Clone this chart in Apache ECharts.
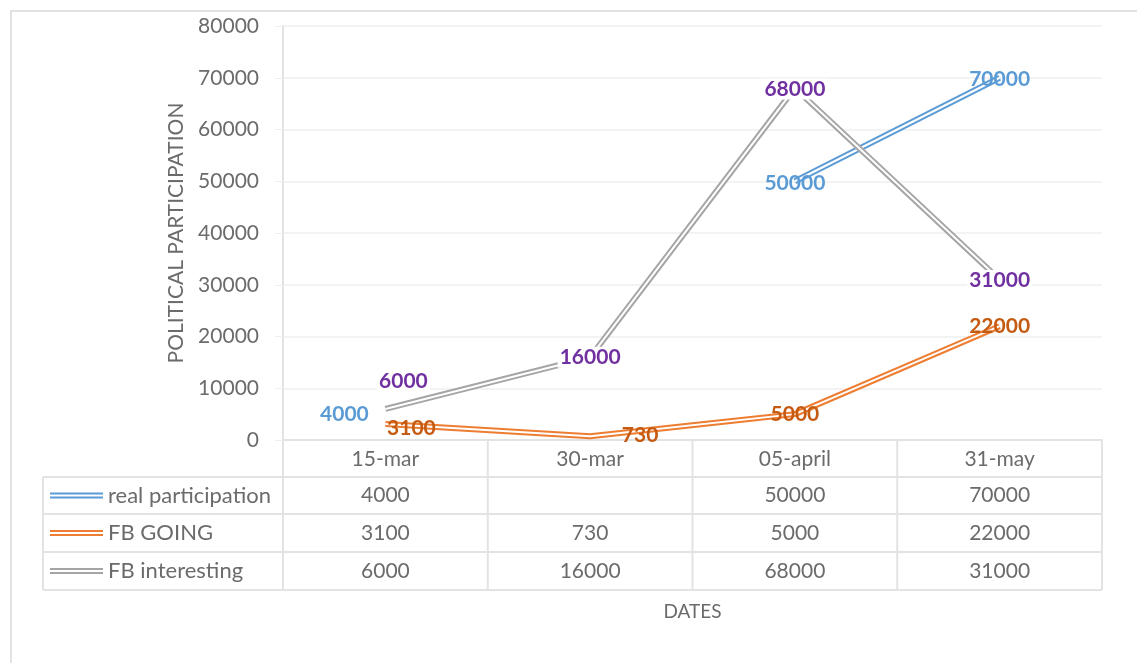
<!DOCTYPE html>
<html><head><meta charset="utf-8">
<script src="https://cdn.jsdelivr.net/npm/echarts@6/dist/echarts.min.js"></script>
<style>html,body{margin:0;padding:0;background:#fff}#c{width:1137px;height:663px}</style>
</head><body><div id="c"></div>
<script>
const categories = ['15-mar', '30-mar', '05-april', '31-may'];
const seriesNames = ['real participation', 'FB GOING', 'FB interesting'];
const realParticipation = [4000, null, 50000, 70000];
const fbGoing = [3100, 730, 5000, 22000];
const fbInteresting = [6000, 16000, 68000, 31000];
const yTicks = [0, 10000, 20000, 30000, 40000, 50000, 60000, 70000, 80000];
const yTitle = 'POLITICAL PARTICIPATION';
const xTitle = 'DATES';

const FONT = 'Lato';
const TXT = '#6b6b6b';
const lineColors = ['#5B9BD5', '#ED7D31', '#A5A5A5'];
const labelColors = ['#5B9BD5', '#C55A11', '#7030A0'];
const labelOffsets = [
  [[-41, -5], [0, 0], [0, 2], [0, 1]],
  [[26, 4], [50, -1], [0, 0], [0, 0]],
  [[18, -28], [0, 0], [0, 1], [0, 1]]
];
const allData = [realParticipation, fbGoing, fbInteresting];

const G = { left: 283, right: 35, top: 26, bottom: 223 };

const series = [];
allData.forEach((vals, si) => {
  series.push({
    type: 'line', name: seriesNames[si], data: vals, z: 2 + si * 2,
    symbol: 'none', connectNulls: false, animation: false, silent: true,
    lineStyle: { color: lineColors[si], width: 6 }
  });
  series.push({
    type: 'line', name: seriesNames[si] + '_inner', z: 3 + si * 2,
    data: vals,
    symbol: 'circle', symbolSize: 1, showSymbol: true, connectNulls: false, animation: false, silent: true,
    lineStyle: { color: '#ffffff', width: 2 },
    itemStyle: { color: 'rgba(255,255,255,0)', borderWidth: 0 },
    label: {
      show: true, position: 'inside', color: labelColors[si],
      fontFamily: FONT, fontWeight: 'bold', fontSize: 21,
      backgroundColor: si === 2 ? '#ffffff' : 'transparent', padding: si === 2 ? [0, 2] : 0,
      formatter: p => (p.value == null ? '' : String(p.value))
    },
    labelLayout: p => ({
      dx: labelOffsets[si][p.dataIndex][0],
      dy: labelOffsets[si][p.dataIndex][1],
      hideOverlap: false
    })
  });
});

const chart = echarts.init(document.getElementById('c'), null, { renderer: 'canvas' });
chart.setOption({
  backgroundColor: '#ffffff',
  animation: false,
  grid: G,
  xAxis: {
    type: 'category', data: categories, boundaryGap: true,
    axisLine: { show: true, lineStyle: { color: '#e3e3e3', width: 2 } },
    axisTick: { show: false },
    axisLabel: { color: TXT, fontFamily: FONT, fontSize: 21, margin: 9 },
    name: xTitle, nameLocation: 'middle', nameGap: 162,
    nameTextStyle: { color: TXT, fontFamily: FONT, fontSize: 19 }
  },
  yAxis: {
    type: 'value', min: 0, max: 80000, interval: 10000,
    axisLine: { show: true, lineStyle: { color: '#e3e3e3', width: 2 } },
    axisTick: { show: true, length: 8, lineStyle: { color: '#efefef' } },
    splitLine: { lineStyle: { color: '#efefef', width: 1.5 } },
    axisLabel: { color: TXT, fontFamily: FONT, fontSize: 21, margin: 24,
      formatter: v => (yTicks.includes(v) ? String(v) : '') },
    name: yTitle, nameLocation: 'middle', nameGap: 96, nameRotate: 90,
    nameTextStyle: { color: TXT, fontFamily: FONT, fontSize: 21 }
  },
  series: series
});

// data table
const colEdges = [];
const colCenters = categories.map(c => chart.convertToPixel({ xAxisIndex: 0 }, c));
const halfW = (colCenters[1] - colCenters[0]) / 2;
colCenters.forEach(c => colEdges.push(c - halfW));
colEdges.push(colCenters[colCenters.length - 1] + halfW);
const axisY = chart.convertToPixel({ yAxisIndex: 0 }, 0);
const rowTops = [axisY, axisY + 37, axisY + 74, axisY + 112, axisY + 150];
const tableLeft = 43;
const B = '#e3e3e3';
const graphic = [];
graphic.push({ type: 'rect', shape: { x: 11, y: 11, width: 1200, height: 700 }, style: { fill: 'none', stroke: '#d9d9d9', lineWidth: 1.5 }, silent: true, z: -1 });
for (let r = 1; r < rowTops.length; r++) {
  graphic.push({ type: 'line', shape: { x1: tableLeft, y1: rowTops[r], x2: colEdges[colEdges.length - 1], y2: rowTops[r] }, style: { stroke: B, lineWidth: 2 }, silent: true });
}
colEdges.forEach(x => {
  graphic.push({ type: 'line', shape: { x1: x, y1: axisY, x2: x, y2: rowTops[4] }, style: { stroke: B, lineWidth: 2 }, silent: true });
});
graphic.push({ type: 'line', shape: { x1: tableLeft, y1: rowTops[1], x2: tableLeft, y2: rowTops[4] }, style: { stroke: B, lineWidth: 2 }, silent: true });
allData.forEach((vals, si) => {
  const cy = (rowTops[si + 1] + rowTops[si + 2]) / 2;
  graphic.push({ type: 'line', shape: { x1: 50, y1: cy - 2, x2: 103, y2: cy - 2 }, style: { stroke: lineColors[si], lineWidth: 2.2 }, silent: true });
  graphic.push({ type: 'line', shape: { x1: 50, y1: cy + 2, x2: 103, y2: cy + 2 }, style: { stroke: lineColors[si], lineWidth: 2.2 }, silent: true });
  graphic.push({ type: 'text', x: 108, y: cy, style: { text: seriesNames[si], fill: TXT, font: '22px ' + FONT, verticalAlign: 'middle', align: 'left' }, silent: true });
  vals.forEach((v, i) => {
    if (v == null) return;
    graphic.push({ type: 'text', x: colCenters[i], y: cy, style: { text: String(v), fill: TXT, font: '21px ' + FONT, verticalAlign: 'middle', align: 'center' }, silent: true });
  });
});
chart.setOption({ graphic: graphic });
</script></body></html>
